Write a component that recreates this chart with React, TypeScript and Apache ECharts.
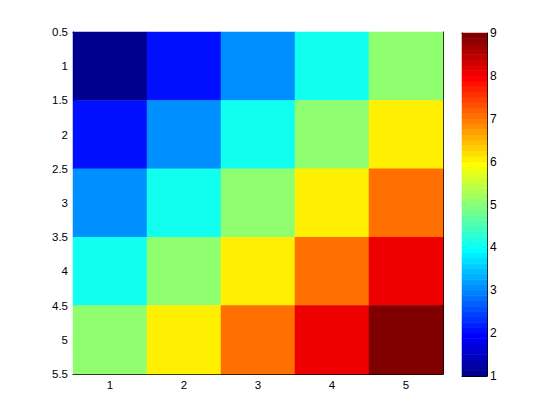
import React, { useEffect, useRef } from "react";
import * as echarts from "echarts";

const xCategories = ["1", "2", "3", "4", "5"];
const yCategories = ["1", "2", "3", "4", "5"];
// matrix values, row by row (top row first)
const matrixRows = [
  [1, 2, 3, 4, 5],
  [2, 3, 4, 5, 6],
  [3, 4, 5, 6, 7],
  [4, 5, 6, 7, 8],
  [5, 6, 7, 8, 9],
];
const yAxisMin = 0.5;
const yAxisMax = 5.5;
const yAxisStep = 0.5;
const colorMin = 1;
const colorMax = 9;
const colorLevels = 64;

function jet(i: number, m: number): string {
  // MATLAB jet(m), i is 1-based
  const n = Math.ceil(m / 4);
  const u: number[] = [];
  for (let k = 1; k <= n; k++) u.push(k / n);
  for (let k = 1; k <= n - 1; k++) u.push(1);
  for (let k = n; k >= 1; k--) u.push(k / n);
  const gStart = Math.ceil(n / 2) - (m % 4 === 1 ? 1 : 0);
  const comp = (offset: number) => {
    const pos = i - (gStart + offset);
    if (pos < 1 || pos > u.length) return 0;
    return u[pos - 1];
  };
  const r = comp(n);
  const g = comp(0);
  const b = comp(-n);
  const h = (x: number) => Math.round(x * 255).toString(16).padStart(2, "0");
  return "#" + h(r) + h(g) + h(b);
}

const font = { fontFamily: "'Liberation Sans', Arial, sans-serif", fontSize: 11.5, color: "#000000" };
const lineStyle = { color: "#000000", width: 1 };

export default function App() {
  const ref = useRef<HTMLDivElement>(null);
  useEffect(() => {
    if (!ref.current) return;
    const chart = echarts.init(ref.current, undefined, { renderer: "svg" });

    const heatData: number[][] = [];
    matrixRows.forEach((row, r) => {
      row.forEach((v, c) => {
        heatData.push([c, r, v]);
      });
    });

    const step = (colorMax - colorMin) / colorLevels;
    const cbCats: string[] = [];
    const cbData: number[][] = [];
    const pieces: any[] = [];
    for (let k = 0; k < colorLevels; k++) {
      cbCats.push(String(k));
      cbData.push([0, k, colorMin + (k + 0.5) * step]);
      const lo = colorMin + k * step;
      const hi = colorMin + (k + 1) * step;
      const piece: any = { gte: lo, color: jet(k + 1, colorLevels) };
      if (k === colorLevels - 1) piece.lte = hi + 1e-9;
      else piece.lt = hi;
      pieces.push(piece);
    }

    chart.setOption({
      animation: false,
      textStyle: { color: "#000000" },
      visualMap: {
        type: "piecewise",
        show: false,
        dimension: 2,
        seriesIndex: [0, 1],
        pieces,
      },
      grid: [
        { left: 73, top: 32, width: 370, height: 342, show: false },
        { left: 462, top: 33, width: 25, height: 343, show: false },
      ],
      xAxis: [
        {
          type: "category", gridIndex: 0, data: xCategories, position: "bottom",
          axisLine: { show: true, lineStyle },
          axisTick: { show: true, inside: true, alignWithLabel: true, length: 4, lineStyle },
          axisLabel: { ...font, margin: 5 },
          splitLine: { show: false },
        },
        {
          type: "category", gridIndex: 0, data: xCategories, position: "top",
          axisLine: { show: true, lineStyle },
          axisTick: { show: true, inside: true, alignWithLabel: true, length: 4, lineStyle },
          axisLabel: { show: false },
          splitLine: { show: false },
        },
        {
          type: "category", gridIndex: 1, data: ["c"], position: "bottom",
          axisLine: { show: true, lineStyle }, axisTick: { show: false }, axisLabel: { show: false },
        },
        {
          type: "category", gridIndex: 1, data: ["c"], position: "top",
          axisLine: { show: true, lineStyle }, axisTick: { show: false }, axisLabel: { show: false },
        },
      ],
      yAxis: [
        {
          type: "category", gridIndex: 0, data: yCategories, inverse: true, show: false, position: "left",
        },
        {
          type: "value", gridIndex: 0, min: yAxisMin, max: yAxisMax, interval: yAxisStep, inverse: true,
          position: "left",
          axisLine: { show: true, lineStyle },
          axisTick: { show: true, inside: true, length: 4, lineStyle },
          axisLabel: { ...font, margin: 5, formatter: (v: number) => String(v) },
          splitLine: { show: false },
        },
        {
          type: "value", gridIndex: 0, min: yAxisMin, max: yAxisMax, interval: yAxisStep, inverse: true,
          position: "right",
          axisLine: { show: true, lineStyle },
          axisTick: { show: true, inside: true, length: 4, lineStyle },
          axisLabel: { show: false },
          splitLine: { show: false },
        },
        {
          type: "category", gridIndex: 1, data: cbCats, show: false, position: "left",
        },
        {
          type: "value", gridIndex: 1, min: colorMin, max: colorMax, interval: 1, position: "left",
          axisLine: { show: true, lineStyle },
          axisTick: { show: true, inside: true, length: 4, lineStyle },
          axisLabel: { show: false },
          splitLine: { show: false },
        },
        {
          type: "value", gridIndex: 1, min: colorMin, max: colorMax, interval: 1, position: "right",
          axisLine: { show: true, lineStyle },
          axisTick: { show: true, inside: true, length: 4, lineStyle },
          axisLabel: { ...font, fontSize: 12, margin: 3 },
          splitLine: { show: false },
        },
      ],
      series: [
        {
          type: "heatmap", xAxisIndex: 0, yAxisIndex: 0, data: heatData,
          emphasis: { disabled: true }, z: 1,
        },
        {
          type: "heatmap", xAxisIndex: 2, yAxisIndex: 3, data: cbData,
          emphasis: { disabled: true }, z: 1,
        },
      ],
    });
    return () => chart.dispose();
  }, []);
  return (
    <div
      ref={ref}
      style={{ position: "fixed", left: 0, top: 0, width: 560, height: 420, background: "#fff" }}
    />
  );
}
